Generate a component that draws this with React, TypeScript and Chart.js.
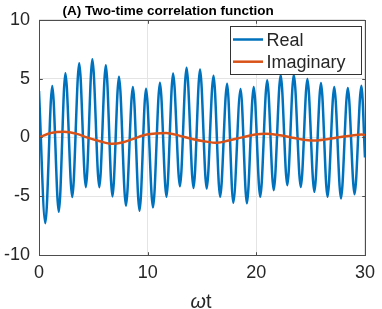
import React, { useEffect, useRef } from 'react';
import { Chart, registerables } from 'chart.js';

Chart.register(...registerables);

// ---- data ----
const realT = [0, 0.58, 1.22, 1.82, 2.43, 3.06, 3.7, 4.31, 4.91, 5.55, 6.15, 6.76, 7.36, 8.0, 8.64, 9.25, 9.85, 10.49, 11.13, 11.73, 12.34, 12.97, 13.58, 14.22, 14.82, 15.43, 16.06, 16.67, 17.31, 17.88, 18.55, 19.13, 19.76, 20.36, 21.0, 21.6, 22.24, 22.85, 23.45, 24.09, 24.7, 25.34, 25.95, 26.55, 27.17, 27.79, 28.42, 29.04, 29.67, 30];
const realV = [3.95, -7.3, 4.37, -6.32, 5.45, -5.07, 6.3, -4.23, 6.65, -4.23, 6.13, -5.02, 5.16, -5.8, 4.29, -6.24, 4.14, -5.95, 4.65, -5.05, 5.44, -4.15, 5.92, -4.3, 5.78, -4.35, 5.24, -5.05, 4.57, -5.56, 4.12, -5.61, 4.29, -5.05, 4.85, -4.49, 5.3, -4.07, 5.33, -4.21, 4.96, -4.63, 4.62, -5.05, 4.29, -5.19, 4.2, -4.83, 4.4, -1.7];

const imagT = [0, 1.09, 2.3, 3.5, 4.4, 5.6, 6.7, 7.76, 8.67, 9.9, 11.7, 12.9, 14.1, 15.2, 16.4, 17.45, 18.7, 19.9, 20.8, 22.0, 23.2, 24.1, 25.2, 26.2, 27.45, 28.7, 29.7, 30];
const imagV = [0.0, 0.38, 0.49, 0.3, 0.0, -0.33, -0.55, -0.41, -0.13, 0.24, 0.38, 0.15, -0.13, -0.33, -0.46, -0.27, 0.0, 0.24, 0.3, 0.21, 0.0, -0.16, -0.27, -0.19, 0.0, 0.15, 0.24, 0.2];

const xTicks = [0, 10, 20, 30];
const yTicks = [-10, -5, 0, 5, 10];
const seriesNames = ['Real', 'Imaginary'];
const titleText = '(A) Two-time correlation function';
const xLabelItalic = 'ω';
const xLabelPlain = 't';

const FONT = '"Liberation Sans", Arial, Helvetica, sans-serif';
const INK = '#262626';
const AXIS = '#4d4d4d';
const GRID = '#e4e4e4';
const BLUE = '#0072BD';
const ORANGE = '#D95319';

export default function App() {
  const ref = useRef<HTMLCanvasElement>(null);

  useEffect(() => {
    const canvas = ref.current;
    if (!canvas) return;

    const decor = {
      id: 'decor',
      afterDraw(chart: any) {
        const { ctx, chartArea: a, scales } = chart;
        const xs = scales.x;
        const ys = scales.y;
        ctx.save();
        // axes box
        ctx.strokeStyle = AXIS;
        ctx.lineWidth = 1;
        const L = Math.round(a.left) + 0.5;
        const R = Math.round(a.right) + 0.5;
        const T = Math.round(a.top) + 0.5;
        const B = Math.round(a.bottom) + 0.5;
        ctx.strokeRect(L, T, R - L, B - T);
        // inward tick marks
        const tl = 3.3;
        ctx.beginPath();
        xTicks.forEach((v) => {
          const px = Math.round(xs.getPixelForValue(v)) + 0.5;
          ctx.moveTo(px, B); ctx.lineTo(px, B - tl);
          ctx.moveTo(px, T); ctx.lineTo(px, T + tl);
        });
        yTicks.forEach((v) => {
          const py = Math.round(ys.getPixelForValue(v)) + 0.5;
          ctx.moveTo(L, py); ctx.lineTo(L + tl, py);
          ctx.moveTo(R, py); ctx.lineTo(R - tl, py);
        });
        ctx.stroke();

        // legend
        const lx0 = 230.5, ly0 = 26.5, lx1 = 361.5, ly1 = 74.5;
        ctx.fillStyle = '#ffffff';
        ctx.fillRect(lx0, ly0, lx1 - lx0, ly1 - ly0);
        ctx.strokeStyle = '#333333';
        ctx.lineWidth = 1;
        ctx.strokeRect(lx0, ly0, lx1 - lx0, ly1 - ly0);
        const rows = [
          { name: seriesNames[0], color: BLUE, y: 39.5, base: 46 },
          { name: seriesNames[1], color: ORANGE, y: 61.7, base: 68.3 },
        ];
        ctx.font = `18px ${FONT}`;
        ctx.textBaseline = 'alphabetic';
        ctx.textAlign = 'left';
        rows.forEach((r) => {
          ctx.strokeStyle = r.color;
          ctx.lineWidth = 2.5;
          ctx.beginPath();
          ctx.moveTo(233, r.y);
          ctx.lineTo(263, r.y);
          ctx.stroke();
          ctx.fillStyle = INK;
          ctx.fillText(r.name, 266.5, r.base);
        });

        // title
        ctx.font = `bold 13.5px ${FONT}`;
        ctx.fillStyle = '#000000';
        ctx.fillText(titleText, 62.5, 15);

        // x label (italic omega + upright t)
        const itFont = `italic 19.8px ${FONT}`;
        const upFont = `19.8px ${FONT}`;
        ctx.font = itFont;
        const w1 = ctx.measureText(xLabelItalic).width;
        ctx.font = upFont;
        const w2 = ctx.measureText(xLabelPlain).width;
        const cx = (a.left + a.right) / 2 - 1;
        const sx = cx - (w1 + w2) / 2;
        ctx.fillStyle = INK;
        ctx.font = itFont;
        ctx.fillText(xLabelItalic, sx, 307.5);
        ctx.font = upFont;
        ctx.fillText(xLabelPlain, sx + w1, 307.5);
        ctx.restore();
      },
    };

    const chart = new Chart(canvas, {
      type: 'line',
      data: {
        datasets: [
          {
            label: seriesNames[0],
            data: realT.map((t, i) => ({ x: t, y: realV[i] })),
            borderColor: BLUE,
            borderWidth: 2.5,
            pointRadius: 0,
            cubicInterpolationMode: 'monotone',
            fill: false,
            order: 2,
          },
          {
            label: seriesNames[1],
            data: imagT.map((t, i) => ({ x: t, y: imagV[i] })),
            borderColor: ORANGE,
            borderWidth: 2.5,
            pointRadius: 0,
            cubicInterpolationMode: 'monotone',
            fill: false,
            order: 1,
          },
        ],
      },
      options: {
        responsive: false,
        animation: false,
        devicePixelRatio: 1,
        layout: { padding: { top: 18, right: 13, left: 0, bottom: 0 } },
        plugins: {
          legend: { display: false },
          title: { display: false },
          tooltip: { enabled: false },
        },
        scales: {
          x: {
            type: 'linear',
            min: 0,
            max: 30,
            afterBuildTicks: (s: any) => {
              s.ticks = xTicks.map((v) => ({ value: v }));
            },
            afterFit: (s: any) => {
              s.height = 54;
            },
            grid: { color: GRID, lineWidth: 1, drawTicks: false },
            border: { display: false },
            ticks: {
              font: { family: FONT, size: 18 },
              color: INK,
              padding: 7,
              maxRotation: 0,
              autoSkip: false,
            },
          },
          y: {
            type: 'linear',
            min: -10,
            max: 10,
            afterBuildTicks: (s: any) => {
              s.ticks = yTicks.map((v) => ({ value: v }));
            },
            afterFit: (s: any) => {
              s.width = 39;
            },
            grid: { color: GRID, lineWidth: 1, drawTicks: false },
            border: { display: false },
            ticks: {
              font: { family: FONT, size: 18 },
              color: INK,
              padding: 9,
              autoSkip: false,
            },
          },
        },
      },
      plugins: [decor],
    } as any);

    return () => chart.destroy();
  }, []);

  return (
    <div style={{ position: 'fixed', left: 0, top: 0, width: 382, height: 309, background: '#ffffff' }}>
      <canvas ref={ref} width={382} height={309} style={{ width: 382, height: 309, display: 'block' }} />
    </div>
  );
}
